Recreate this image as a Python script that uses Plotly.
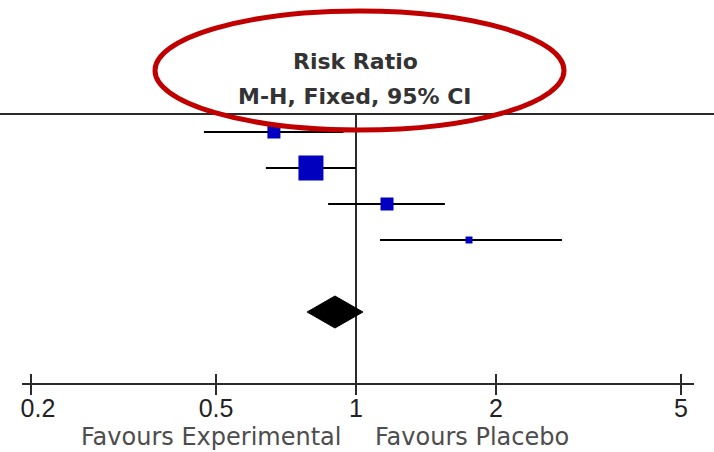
import math
import plotly.graph_objects as go

# Per-study risk ratios with 95% confidence limits
study_rr = [0.666, 0.800, 1.166, 1.750]
study_low = [0.471, 0.640, 0.871, 1.126]
study_high = [0.940, 1.000, 1.553, 2.773]
study_weight = [16.7, 61.8, 16.7, 4.8]  # percent weight (M-H, fixed)

# Pooled estimate
pooled_rr = 0.901
pooled_low = 0.785
pooled_high = 1.035

tick_vals = [0.2, 0.5, 1, 2, 5]
tick_text = ["\u00a0\u00a00.2", "0.5", "1", "2", "5"]

header_lines = ["Risk Ratio", "M-H, Fixed, 95% CI"]
favours_left = "Favours Experimental"
favours_right = "Favours Placebo"

W, H = 714, 452
ROW0_PX, ROW_PX = 132, 36          # pixel y of first row, row pitch
X1_PX, PX_PER_DEC = 356, 465       # pixel x of RR = 1, pixels per decade
AX_L, AX_R = 22, 694               # axis line extent in pixels
AXIS_Y_PX = 384

def row_from_px(py):
    return (py - ROW0_PX) / ROW_PX

def logx_from_px(px):
    return (px - X1_PX) / PX_PER_DEC

study_rows = list(range(len(study_rr)))
pooled_row = len(study_rr) + 1

fig = go.Figure()

# reference line at RR = 1
fig.add_trace(go.Scatter(
    x=[1, 1], y=[row_from_px(114), row_from_px(394)], mode="lines",
    line=dict(color="#2b2b2b", width=2), hoverinfo="skip", showlegend=False))

# confidence interval whiskers
cx, cy = [], []
for lo, hi, r in zip(study_low, study_high, study_rows):
    cx += [lo, hi, None]
    cy += [r, r, None]
fig.add_trace(go.Scatter(
    x=cx, y=cy, mode="lines", line=dict(color="#000000", width=2),
    hoverinfo="skip", showlegend=False))

# study squares sized by weight
k = 25 / math.sqrt(max(study_weight))
fig.add_trace(go.Scatter(
    x=study_rr, y=study_rows, mode="markers",
    marker=dict(symbol="square", color="#0000BE", opacity=1,
                size=[k * math.sqrt(w) for w in study_weight],
                line=dict(width=0)),
    showlegend=False))

# pooled diamond
half_h = 16 / ROW_PX
fig.add_trace(go.Scatter(
    x=[pooled_low, pooled_rr, pooled_high, pooled_rr, pooled_low],
    y=[pooled_row, pooled_row - half_h, pooled_row, pooled_row + half_h, pooled_row],
    mode="lines", fill="toself", fillcolor="#000000",
    line=dict(color="#000000", width=1), hoverinfo="skip", showlegend=False))

# companion axes carrying the tick marks above and below the axis line
for ax in ("x2", "x3"):
    fig.add_trace(go.Scatter(x=[1], y=[0], xaxis=ax, mode="markers",
                             marker=dict(opacity=0), hoverinfo="skip",
                             showlegend=False))

xrange = [logx_from_px(AX_L), logx_from_px(AX_R)]
axis_pos = 1 - AXIS_Y_PX / H
common_x = dict(type="log", range=xrange, domain=[AX_L / W, AX_R / W],
                anchor="free", position=axis_pos, showgrid=False, zeroline=False,
                showline=True, linecolor="#2b2b2b", linewidth=2, automargin=False,
                tickvals=tick_vals, tickwidth=2)

fig.update_layout(
    width=W, height=H,
    margin=dict(l=0, r=0, t=0, b=0, autoexpand=False),
    paper_bgcolor="white", plot_bgcolor="white",
    xaxis=dict(**common_x, ticks="outside", ticklen=2, tickcolor="rgba(0,0,0,0)",
               ticktext=tick_text,
               tickfont=dict(family="Liberation Sans", size=25, color="#222222")),
    xaxis2=dict(**common_x, overlaying="x", ticks="inside", ticklen=9,
                tickcolor="#2b2b2b", showticklabels=False),
    xaxis3=dict(**common_x, overlaying="x", ticks="outside", ticklen=10,
                tickcolor="#2b2b2b", showticklabels=False),
    yaxis=dict(range=[row_from_px(H), row_from_px(0)], visible=False,
               domain=[0, 1], automargin=False),
    showlegend=False,
)

# header rule across the full width
fig.add_shape(type="line", xref="paper", yref="paper", x0=0, x1=1,
              y0=1 - 114 / H, y1=1 - 114 / H, line=dict(color="#2b2b2b", width=2))

# column header
fig.add_annotation(text="<b>" + header_lines[0] + "</b>", xref="paper", yref="paper",
                   x=355 / W, y=1 - 61 / H, xanchor="center", yanchor="middle",
                   showarrow=False,
                   font=dict(family="DejaVu Sans", size=22, color="#333333"))
fig.add_annotation(text="<b>" + header_lines[1] + "</b>", xref="paper", yref="paper",
                   x=355 / W, y=1 - 97 / H, xanchor="center", yanchor="middle",
                   showarrow=False,
                   font=dict(family="DejaVu Sans", size=22, color="#333333"))

# favours labels
fig.add_annotation(text=favours_left, xref="paper", yref="paper",
                   x=211 / W, y=1 - 437 / H, xanchor="center", yanchor="middle",
                   showarrow=False,
                   font=dict(family="DejaVu Sans", size=24, color="#4d4d4d"))
fig.add_annotation(text=favours_right, xref="paper", yref="paper",
                   x=472 / W, y=1 - 437 / H, xanchor="center", yanchor="middle",
                   showarrow=False,
                   font=dict(family="DejaVu Sans", size=24, color="#4d4d4d"))

# red highlight ellipse around the header
fig.add_shape(type="circle", xref="paper", yref="paper", layer="above",
              x0=155 / W, x1=564 / W, y0=1 - 130 / H, y1=1 - 11 / H,
              line=dict(color="#C00000", width=5))

fig.write_html("out.html")
